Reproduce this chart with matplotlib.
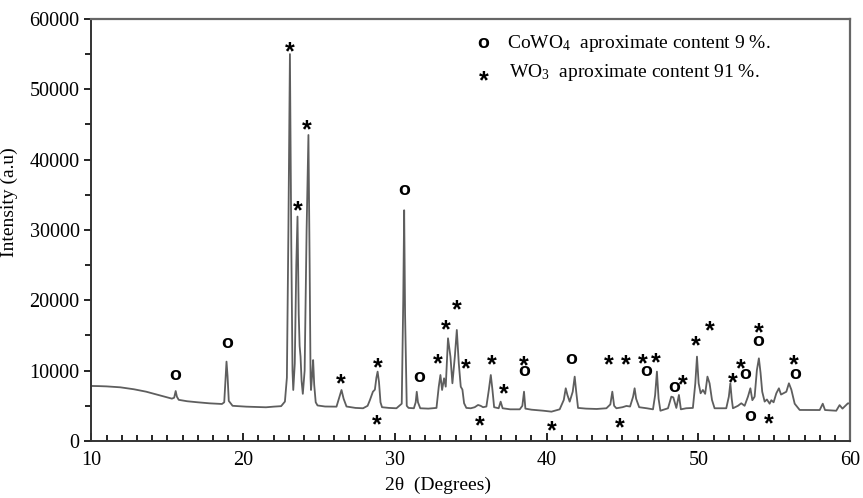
import matplotlib
matplotlib.use("Agg")
import matplotlib.pyplot as plt
from matplotlib.ticker import MultipleLocator

# === DATA ===
two_theta = [
    10.0, 10.5, 11.0, 11.9, 12.8, 13.6, 14.4, 15.0, 15.3, 15.45, 15.55, 15.63, 15.75,
    16.3, 17.0, 17.8, 18.6, 18.75, 18.84, 18.9, 18.97, 19.05, 19.3, 20.2, 21.0, 21.5,
    22.0, 22.5, 22.75, 22.88, 22.98, 23.08, 23.17, 23.25, 23.3, 23.4, 23.5, 23.58,
    23.66, 23.72, 23.78, 23.85, 23.93, 24.05, 24.18, 24.3, 24.38, 24.44, 24.47, 24.55,
    24.61, 24.68, 24.78, 24.9, 25.4, 26.15, 26.35, 26.48, 26.62, 26.81, 27.4, 27.9,
    28.2, 28.35, 28.55, 28.68, 28.78, 28.86, 28.95, 29.05, 29.15, 29.6, 30.1, 30.45,
    30.55, 30.61, 30.67, 30.78, 30.9, 31.25, 31.37, 31.44, 31.52, 31.67, 32.2, 32.74,
    32.89, 33.0, 33.11, 33.24, 33.35, 33.5, 33.66, 33.79, 33.95, 34.08, 34.21, 34.34,
    34.45, 34.56, 34.71, 35.0, 35.26, 35.48, 35.65, 35.81, 36.03, 36.19, 36.32, 36.43,
    36.54, 36.84, 36.97, 37.1, 37.6, 38.23, 38.4, 38.51, 38.6, 39.0, 39.79, 40.32,
    40.86, 41.13, 41.26, 41.37, 41.52, 41.72, 41.85, 41.95, 42.07, 42.6, 43.3, 43.94,
    44.2, 44.33, 44.45, 44.6, 45.0, 45.26, 45.5, 45.7, 45.8, 45.9, 46.1, 46.6, 47.01,
    47.15, 47.27, 47.38, 47.5, 48.0, 48.22, 48.35, 48.55, 48.72, 48.85, 49.2, 49.64,
    49.8, 49.91, 50.02, 50.15, 50.3, 50.45, 50.6, 50.74, 50.9, 51.07, 51.84, 52.01,
    52.11, 52.2, 52.28, 52.61, 52.83, 53.05, 53.27, 53.43, 53.56, 53.71, 53.86, 53.99,
    54.1, 54.21, 54.37, 54.52, 54.7, 54.81, 54.96, 55.14, 55.31, 55.45, 55.62, 55.8,
    55.97, 56.13, 56.35, 56.68, 57.3, 58.0, 58.2, 58.35, 59.09, 59.31, 59.5, 59.86, 60.0,
]
intensity = [
    7820, 7800, 7760, 7630, 7350, 7010, 6550, 6200, 6020, 6150, 7100, 6300, 5850,
    5650, 5500, 5350, 5260, 5500, 9000, 11280, 9200, 5700, 5000, 4880, 4820, 4790,
    4880, 4950, 5600, 9000, 30000, 55000, 28000, 10000, 7250, 11000, 25000, 31900,
    18000, 13500, 12000, 8500, 6700, 10000, 30000, 43500, 25000, 9000, 7250, 9500,
    11500, 8000, 5500, 5050, 4900, 4880, 6300, 7250, 6000, 4900, 4700, 4650,
    5000, 5800, 7000, 7300, 9000, 9860, 8400, 5500, 4800, 4700, 4650, 5300,
    20000, 32800, 18000, 5000, 4700, 4650, 5500, 7000, 5500, 4650, 4600, 4700,
    7720, 9380, 7250, 8910, 7720, 14600, 12000, 8200, 12000, 15780, 11050, 7720,
    7300, 5360, 4700, 4650, 4800, 5120, 5000, 4800, 4900, 7250, 9380, 7250,
    4800, 4650, 5590, 4650, 4500, 4500, 5000, 7010, 4600, 4450, 4300, 4170,
    4500, 5830, 7490, 6540, 5590, 7000, 9150, 7000, 4700, 4600, 4550, 4650,
    5200, 7010, 5000, 4650, 4800, 4980, 4900, 6300, 7490, 6000, 4800, 4650, 4500,
    6500, 9860, 6000, 4300, 4650, 6300, 6200, 4700, 6540, 4500, 4650, 4700,
    8200, 11990, 8200, 6780, 7250, 6700, 9150, 8200, 5830, 4650, 4650, 6300,
    8200, 6000, 4650, 5000, 5360, 5000, 6300, 7490, 5800, 6300, 10090, 11750,
    9700, 7010, 5600, 5900, 5300, 5800, 5500, 6780, 7490, 6600, 6800, 7000,
    8200, 7300, 5300, 4410, 4400, 4400, 5300, 4400, 4300, 5100, 4600, 5360, 5300,
]

# phase marks: o = CoWO4, * = WO3 (glyph centres)
mark_theta = [15.5, 18.93, 23.08, 24.2, 23.6, 30.59, 26.43, 28.87, 28.8, 31.57,
              32.83, 33.35, 34.07, 34.67, 35.59, 36.38, 37.17, 38.49, 38.49, 40.33,
              41.59, 44.09, 44.82, 45.21, 46.33, 47.18, 46.59, 48.44, 48.97, 49.83,
              50.75, 52.26, 52.79, 53.12, 53.45, 54.63, 53.97, 53.97, 56.28, 56.41]
mark_value = [9240, 13790, 56450, 45350, 33840, 35540, 9240, 11520, 3410, 8960,
              12090, 16920, 19760, 11370, 3270, 11940, 7820, 11800, 9810, 2560,
              11520, 11940, 2990, 11940, 12090, 12230, 9810, 7540, 9100, 14640,
              16780, 9380, 11370, 9380, 3410, 3550, 16500, 14080, 11940, 9380]
mark_symbol = ['o', 'o', '*', '*', '*', 'o', '*', '*', '*', 'o',
               '*', '*', '*', '*', '*', '*', '*', '*', 'o', '*',
               'o', '*', '*', '*', '*', '*', 'o', 'o', '*', '*',
               '*', '*', '*', 'o', 'o', '*', '*', 'o', '*', 'o']

legend_labels = [r"CoWO$_4$  aproximate content 9 %.", r"WO$_3$  aproximate content 91 %."]

plt.rcParams['font.family'] = ['Liberation Serif', 'DejaVu Serif']
plt.rcParams['mathtext.fontset'] = 'custom'
plt.rcParams['mathtext.rm'] = 'Liberation Serif'
plt.rcParams['mathtext.it'] = 'Liberation Serif:italic'

SYM_STYLE = {
    'o': dict(fontsize=14, dy=0),
    '*': dict(fontsize=18, dy=-6),  # asterisk glyph sits high in its box
}

fig = plt.figure(figsize=(8.63, 4.98), dpi=100)
ax = fig.add_axes([0.106, 0.1145, 0.879, 0.8475])

ax.plot(two_theta, intensity, color='#5e5e5e', lw=1.3)

for t, v, s in zip(mark_theta, mark_value, mark_symbol):
    st = SYM_STYLE[s]
    ax.annotate(s, (t, v), xytext=(0, st['dy']), textcoords='offset points',
                ha='center', va='center', fontsize=st['fontsize'], fontweight='bold',
                family='Liberation Sans', color='black')

# hand-made legend
for s, y in zip(['o', '*'], [0.941, 0.872]):
    st = SYM_STYLE[s]
    ax.annotate(s, (0.517, y), xycoords='axes fraction', xytext=(0, st['dy']),
                textcoords='offset points', ha='center', va='center',
                fontsize=st['fontsize'], fontweight='bold', family='Liberation Sans')
ax.text(0.548, 0.941, legend_labels[0], transform=ax.transAxes, ha='left',
        va='center', fontsize=14)
ax.text(0.551, 0.872, legend_labels[1], transform=ax.transAxes, ha='left',
        va='center', fontsize=14)

ax.set_xlim(10, 60)
ax.set_ylim(0, 60000)
ax.xaxis.set_major_locator(MultipleLocator(10))
ax.xaxis.set_minor_locator(MultipleLocator(1))
ax.yaxis.set_major_locator(MultipleLocator(10000))
ax.yaxis.set_minor_locator(MultipleLocator(5000))
ax.tick_params(axis='x', which='both', direction='in', labelsize=14.5, pad=7)
ax.tick_params(axis='x', which='major', length=6, width=1.2)
ax.tick_params(axis='x', which='minor', length=4, width=1.2)
ax.tick_params(axis='y', which='both', direction='out', labelsize=14.5)
ax.tick_params(axis='y', which='major', length=5, width=1.2)
ax.tick_params(axis='y', which='minor', length=4, width=1.2)

for side in ['left', 'bottom']:
    ax.spines[side].set_color('#333333')
    ax.spines[side].set_linewidth(1.4)
for side in ['top', 'right']:
    ax.spines[side].set_color('#666666')
    ax.spines[side].set_linewidth(1.6)

ax.set_ylabel('Intensity (a.u)', fontsize=14)
ax.yaxis.set_label_coords(-0.097, 0.566)
ax.set_xlabel('2θ  (Degrees)', fontsize=14)
ax.xaxis.set_label_coords(0.457, -0.085)

fig.savefig('out.png', dpi=100)
